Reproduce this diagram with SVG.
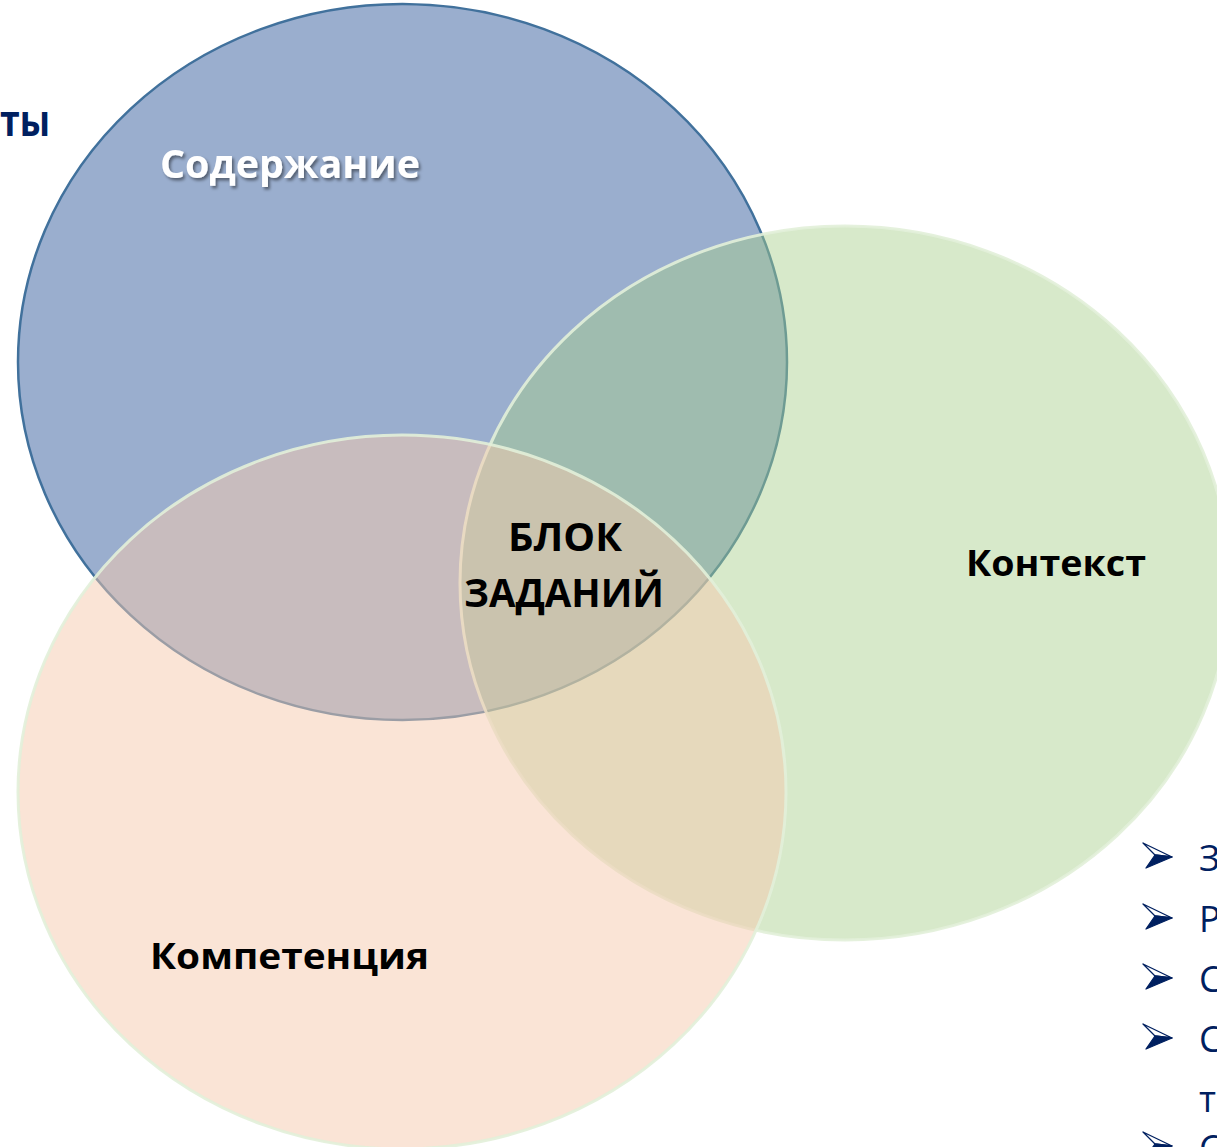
<svg xmlns="http://www.w3.org/2000/svg" width="1217" height="1147" viewBox="0 0 1217 1147">
<defs>
<style>
.lbl{font-family:"Open Sans","Noto Sans","DejaVu Sans",sans-serif;font-weight:700;fill:#000}
.navy{font-family:"Open Sans","Noto Sans","DejaVu Sans",sans-serif;fill:#002060}
.ring{stroke:#E2F0D9;stroke-width:3;stroke-opacity:0.9}
</style>
<filter id="sh" x="-10%" y="-30%" width="130%" height="170%">
<feDropShadow dx="2" dy="2.5" stdDeviation="1.5" flood-color="#000" flood-opacity="0.45"/>
</filter>
<g id="bul">
<path d="M0,-14 L29,0 L12,-2 Z" fill="#fff" stroke="#002060" stroke-width="1.3" stroke-linejoin="round"/>
<path d="M12,-2 L29,0 L3,11 Z" fill="#002060" stroke="#002060" stroke-width="1.3" stroke-linejoin="round"/>
</g>
</defs>
<rect width="1217" height="1147" fill="#fff"/>
<g id="title-fragment">
<text class="navy" x="0" y="136" font-size="43" font-weight="700" textLength="50" lengthAdjust="spacingAndGlyphs">ты</text>
</g>
<g id="node-content">
<ellipse cx="402.5" cy="362" rx="384.5" ry="358" fill="#9AAECE" stroke="#41719C" stroke-width="2.5"/>
</g>
<g id="node-context">
<ellipse class="ring" cx="845" cy="583" rx="385" ry="357" fill="#A7CF8A" fill-opacity="0.45"/>
</g>
<g id="node-competence">
<ellipse class="ring" cx="402" cy="792" rx="384" ry="357" fill="#F5C9AD" fill-opacity="0.5"/>
</g>
<g id="labels">
<text x="160" y="178" font-family="'Open Sans','Noto Sans',sans-serif" font-weight="700" font-size="39" fill="#fff" filter="url(#sh)" textLength="260" lengthAdjust="spacingAndGlyphs">Содержание</text>
<text class="lbl" x="565" y="551" font-size="40" text-anchor="middle" textLength="114" lengthAdjust="spacingAndGlyphs">БЛОК</text>
<text class="lbl" x="564" y="607" font-size="40" text-anchor="middle" textLength="200" lengthAdjust="spacingAndGlyphs">ЗАДАНИЙ</text>
<text class="lbl" x="966" y="576" font-size="36" textLength="180" lengthAdjust="spacingAndGlyphs">Контекст</text>
<text class="lbl" x="150" y="969" font-size="36" textLength="279" lengthAdjust="spacingAndGlyphs">Компетенция</text>
</g>
<g id="list">
<use href="#bul" x="1143" y="857"/>
<use href="#bul" x="1143" y="918"/>
<use href="#bul" x="1143" y="978"/>
<use href="#bul" x="1143" y="1038"/>
<use href="#bul" x="1143" y="1146"/>
<text class="navy" x="1199" y="871" font-size="36">З</text>
<text class="navy" x="1199" y="932" font-size="36">Р</text>
<text class="navy" x="1199" y="992" font-size="36">С</text>
<text class="navy" x="1199" y="1052" font-size="36">С</text>
<text class="navy" x="1199" y="1112" font-size="36">т</text>
<text class="navy" x="1199" y="1161" font-size="36">С</text>
</g>
<g id="connectors"/>
</svg>
